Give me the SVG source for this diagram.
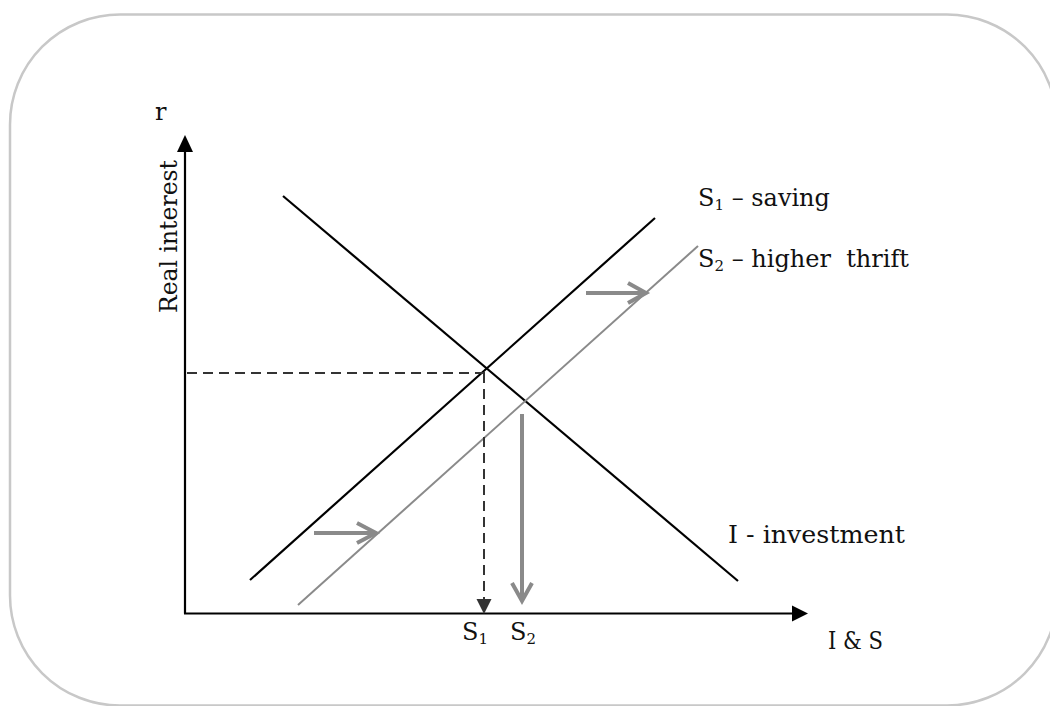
<svg xmlns="http://www.w3.org/2000/svg" width="1050" height="706" viewBox="0 0 1050 706">
<style>
.t{font-family:"DejaVu Serif","Liberation Serif",serif;font-size:24px;fill:#111}
.blk{stroke:#000;stroke-width:2.2;fill:none}
.gry{stroke:#8a8a8a;stroke-width:2;fill:none}
.garr{stroke:#8a8a8a;stroke-width:4;fill:none;stroke-linecap:butt}
.dash{stroke:#333;stroke-width:2;stroke-dasharray:10,6;fill:none}
</style>
<rect x="0" y="0" width="1050" height="706" fill="#fff"/>
<rect id="frame" x="10" y="14.5" width="1047" height="691" rx="110" ry="110" fill="none" stroke="#c8c8c8" stroke-width="2.5"/>
<g id="axes">
<line class="blk" x1="185" y1="613.5" x2="185" y2="150"/>
<polygon points="185,135 177,152 193,152" fill="#000"/>
<line class="blk" x1="184" y1="613.5" x2="795" y2="613.5"/>
<polygon points="808,613.5 792,605.5 792,621.5" fill="#000"/>
</g>
<g id="curve-I"><line class="blk" x1="283" y1="196" x2="738" y2="581"/></g>
<g id="curve-S1"><line class="blk" x1="250" y1="580" x2="655" y2="218"/></g>
<g id="curve-S2"><line class="gry" x1="298" y1="605" x2="698" y2="246"/></g>
<g id="connectors">
<line class="dash" x1="187" y1="373" x2="485" y2="373"/>
<line class="dash" x1="484" y1="373" x2="484" y2="600"/>
<polygon points="484,614 476.5,599 491.5,599" fill="#333"/>
<path class="garr" d="M522,414 V601 M512,583 L522,601 L532,583"/>
<path class="garr" d="M314,533 H376 M357,523 L376,533 L357,543"/>
<path class="garr" d="M586,293 H646 M628,283 L646,293 L628,303"/>
</g>
<g id="labels">
<text class="t" x="155" y="120">r</text>
<text class="t" transform="translate(177,313) rotate(-90)" textLength="153" lengthAdjust="spacingAndGlyphs">Real interest</text>
<text class="t" x="698" y="206">S<tspan font-size="15" dy="4">1</tspan><tspan dy="-4"> – saving</tspan></text>
<text class="t" x="698" y="267" xml:space="preserve">S<tspan font-size="15" dy="4">2</tspan><tspan dy="-4"> – higher  thrift</tspan></text>
<text class="t" x="728" y="543" textLength="177" lengthAdjust="spacingAndGlyphs">I - investment</text>
<text class="t" x="462" y="640">S<tspan font-size="15" dy="4">1</tspan></text>
<text class="t" x="510" y="640">S<tspan font-size="15" dy="4">2</tspan></text>
<text class="t" x="828" y="649" textLength="55" lengthAdjust="spacingAndGlyphs">I &amp; S</text>
</g>
</svg>
